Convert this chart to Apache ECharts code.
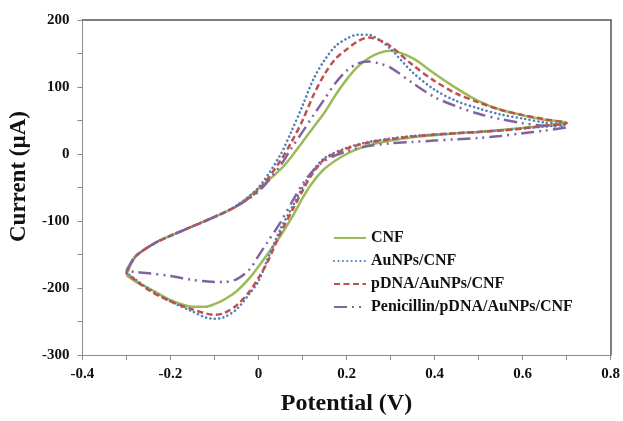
<!DOCTYPE html>
<html>
<head>
<meta charset="utf-8">
<script src="https://cdn.jsdelivr.net/npm/echarts@6/dist/echarts.min.js"></script>
<style>
html,body{margin:0;padding:0;background:#fff;overflow:hidden;}
#chart{width:623px;height:421px;}
</style>
</head>
<body>
<div id="chart"></div>
<script>
// Forward (anodic) sweep potentials, V
const fwdPotential = [-0.3,-0.29,-0.28,-0.26,-0.23,-0.2,-0.15,-0.1,-0.05,0,0.05,0.075,0.1,0.125,0.15,0.175,0.2,0.225,0.25,0.275,0.3,0.35,0.4,0.45,0.5,0.55,0.6,0.65,0.7];
// Reverse (cathodic) sweep potentials, V
const revPotential = [0.7,0.65,0.6,0.55,0.5,0.45,0.4,0.35,0.3,0.25,0.2,0.15,0.12,0.1,0.08,0.05,0.02,0,-0.02,-0.05,-0.08,-0.1,-0.12,-0.15,-0.2,-0.25,-0.28,-0.3];

const seriesNames = ['CNF','AuNPs/CNF','pDNA/AuNPs/CNF','Penicillin/pDNA/AuNPs/CNF'];

// Currents, µA
const cnfFwd = [-181,-165,-154,-143,-131,-122,-108,-94,-78,-52,-23,-4,18,40,62,88,111,130,143,151,154,143,120,98,79,66,58,51,47];
const cnfRev = [47,42,39,36,33,31,28,25,20,13,0,-22,-45,-66,-90,-122,-150,-168,-185,-205,-218,-224,-228,-228,-218,-200,-190,-181];

const auFwd = [-177,-163,-153,-143,-131,-122,-108,-94,-77,-50,-1,34,72,112,140,161,172,178,178,170,157,122,96,79,68,59,53,47,44];
const auRev = [44,41,38,35,33,31,29,27,23,18,9,-6,-28,-50,-75,-112,-158,-190,-208,-232,-244,-246,-244,-235,-220,-201,-187,-177];

const pdnaFwd = [-177,-163,-153,-143,-131,-122,-108,-94,-78,-54,-10,18,50,88,119,142,156,168,174,170,161,133,109,90,77,66,58,52,46];
const pdnaRev = [46,42,38,35,33,31,29,26,22,17,8,-8,-32,-55,-80,-118,-162,-185,-205,-226,-238,-240,-238,-232,-220,-203,-188,-178];

const penFwd = [-174,-163,-153,-143,-131,-122,-108,-94,-78,-56,-17,9,33,58,82,106,124,135,138,135,129,106,85,71,60,52,46,42,40];
const penRev = [40,35,31,27,24,22,20,18,16,12,4,-10,-28,-45,-67,-102,-132,-152,-172,-187,-191,-191,-190,-188,-182,-178,-176,-174];

const xTicks = {min:-0.4, max:0.8, interval:0.2};
const yTicks = {min:-300, max:200, interval:100};

function loop(fwd, rev){
  const pts = [];
  fwdPotential.forEach((v,i)=>pts.push([v, fwd[i]]));
  revPotential.forEach((v,i)=>{ if(i>0) pts.push([v, rev[i]]); });
  return pts;
}

const FONT = '"Liberation Serif","Times New Roman",serif';
const chart = echarts.init(document.getElementById('chart'), null, {renderer:'canvas'});

const mk = (name, fwd, rev, color, type, width, cap) => ({
  name, type:'line', data: loop(fwd, rev), showSymbol:false, symbol:'none',
  smooth:0.3, lineStyle:{color, width, type, cap: cap || 'butt'},
  itemStyle:{color}, animation:false, xAxisIndex:0, yAxisIndex:0
});

chart.setOption({
  backgroundColor:'#fff',
  animation:false,
  grid:{left:77, right:9, top:20, bottom:58, containLabel:false},
  legend:{
    orient:'vertical', left:328, top:225, itemWidth:32, itemHeight:12, itemGap:7,
    itemStyle:{opacity:0},
    textStyle:{fontFamily:FONT, fontWeight:'bold', fontSize:16, color:'#111'},
    data: seriesNames
  },
  xAxis:[{
    type:'value', position:'bottom', min:xTicks.min, max:xTicks.max, interval:xTicks.interval,
    axisLine:{show:true, onZero:false, lineStyle:{color:'#8c8c8c', width:1}},
    axisTick:{show:true, length:5, lineStyle:{color:'#8c8c8c'}},
    minorTick:{show:true, splitNumber:2, length:5, lineStyle:{color:'#8c8c8c'}},
    splitLine:{show:false},
    axisLabel:{margin:12, fontFamily:FONT, fontWeight:'bold', fontSize:15, color:'#111'},
    name:'Potential (V)', nameLocation:'middle', nameGap:37,
    nameTextStyle:{fontFamily:FONT, fontWeight:'bold', fontSize:24, color:'#111'}
  },{
    type:'value', position:'top', min:xTicks.min, max:xTicks.max,
    axisLine:{show:true, onZero:false, lineStyle:{color:'#555', width:1.5}},
    axisTick:{show:false}, axisLabel:{show:false}, splitLine:{show:false}
  }],
  yAxis:[{
    type:'value', position:'left', min:yTicks.min, max:yTicks.max, interval:yTicks.interval,
    axisLine:{show:true, onZero:false, lineStyle:{color:'#8c8c8c', width:1}},
    axisTick:{show:true, length:5, lineStyle:{color:'#8c8c8c'}},
    minorTick:{show:true, splitNumber:2, length:5, lineStyle:{color:'#8c8c8c'}},
    splitLine:{show:false},
    axisLabel:{margin:13, fontFamily:FONT, fontWeight:'bold', fontSize:15, color:'#111'},
    name:'Current (µA)', nameLocation:'middle', nameGap:43,
    nameTextStyle:{fontFamily:FONT, fontWeight:'bold', fontSize:23, color:'#111', padding:[0,0,0,22]}
  },{
    type:'value', position:'right', min:yTicks.min, max:yTicks.max,
    axisLine:{show:true, onZero:false, lineStyle:{color:'#555', width:1.5}},
    axisTick:{show:false}, axisLabel:{show:false}, splitLine:{show:false}
  }],
  series:[
    mk(seriesNames[0], cnfFwd, cnfRev, '#9BBB59', 'solid', 2.5),
    mk(seriesNames[1], auFwd, auRev, '#4F81BD', [0.1,4.3], 2.6, 'round'),
    mk(seriesNames[2], pdnaFwd, pdnaRev, '#C0504D', [6,3.5], 2.5),
    mk(seriesNames[3], penFwd, penRev, '#8064A2', [13,5,2,5,2,5], 2.5)
  ]
});
</script>
</body>
</html>
